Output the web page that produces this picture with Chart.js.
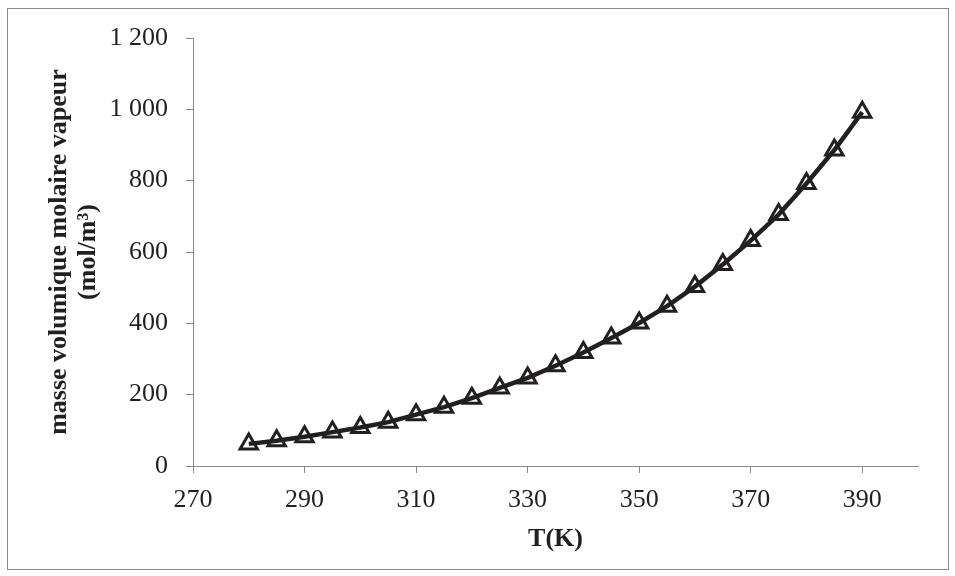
<!DOCTYPE html>
<html>
<head>
<meta charset="utf-8">
<script src="https://cdn.jsdelivr.net/npm/chart.js@4"></script>
<style>
  html, body { margin: 0; padding: 0; background: #fff; }
</style>
</head>
<body>
<canvas id="densityChart" width="955" height="576"></canvas>
<script>
// temperature (K) and vapour molar density (mol/m3)
const temperatures = [280, 285, 290, 295, 300, 305, 310, 315, 320, 325, 330, 335,
                      340, 345, 350, 355, 360, 365, 370, 375, 380, 385, 390];
const vaporDensity = [62, 71, 82, 95, 108, 123, 144, 165, 190, 219, 247, 281,
                      318, 359, 401, 448, 503, 565, 632, 705, 792, 886, 992];
const xTicks = [270, 290, 310, 330, 350, 370, 390];
const yTitle = ['masse volumique molaire vapeur', '(mol/m³)'];
const xTitle = 'T(K)';

const axisGray = '#898989';
const ink = '#231f20';
const serif = 'Liberation Serif';

// space as thousands separator, like "1 200"
function frNumber(v) {
    if (v >= 1000) return Math.floor(v / 1000) + ' ' + String(v % 1000).padStart(3, '0');
    return String(v);
}

const frame = {
    id: 'frame',
    beforeDraw(chart) {
        const ctx = chart.ctx;
        ctx.save();
        ctx.fillStyle = '#fff';
        ctx.fillRect(0, 0, chart.width, chart.height);
        ctx.strokeStyle = axisGray;
        ctx.lineWidth = 1;
        ctx.strokeRect(7.5, 8.5, 941, 561);
        ctx.restore();
    }
};

const ctx = document.getElementById('densityChart').getContext('2d');
new Chart(ctx, {
    type: 'line',
    data: {
        datasets: [{
            data: temperatures.map((t, i) => ({ x: t, y: vaporDensity[i] })),
            borderColor: ink,
            borderWidth: 4.5,
            tension: 0,
            pointStyle: 'triangle',
            pointRadius: 10,
            pointBorderWidth: 3,
            pointBorderColor: ink,
            pointBackgroundColor: 'rgba(0,0,0,0)',
            fill: false
        }]
    },
    options: {
        responsive: false,
        animation: false,
        devicePixelRatio: 1,
        layout: { padding: { left: 0, top: 38, right: 37, bottom: 0 } },
        plugins: {
            legend: { display: false },
            tooltip: { enabled: false }
        },
        scales: {
            x: {
                type: 'linear',
                min: 270,
                max: 400,
                afterBuildTicks: s => { s.ticks = xTicks.map(v => ({ value: v })); },
                afterFit: s => { s.height = 110; },
                grid: { drawOnChartArea: false, drawTicks: true, tickLength: 7, color: axisGray },
                border: { color: axisGray, width: 1 },
                ticks: {
                    color: ink,
                    padding: 12,
                    maxRotation: 0,
                    autoSkip: false,
                    font: { family: serif, size: 26 }
                },
                title: {
                    display: true,
                    text: xTitle,
                    color: ink,
                    font: { family: serif, size: 26, weight: 'bold', lineHeight: 1.1 },
                    padding: { top: 0, bottom: 22 }
                }
            },
            y: {
                min: 0,
                max: 1200,
                afterFit: s => { s.width = 193; },
                grid: { drawOnChartArea: false, drawTicks: true, tickLength: 7, color: axisGray },
                border: { color: axisGray, width: 1 },
                ticks: {
                    stepSize: 200,
                    color: ink,
                    padding: 18,
                    callback: v => frNumber(v),
                    font: { family: serif, size: 26 }
                },
                title: {
                    display: true,
                    text: yTitle,
                    color: ink,
                    font: { family: serif, size: 26, weight: 'bold', lineHeight: 1.1 },
                    padding: { top: 45, bottom: 0 }
                }
            }
        }
    },
    plugins: [frame]
});
</script>
</body>
</html>
